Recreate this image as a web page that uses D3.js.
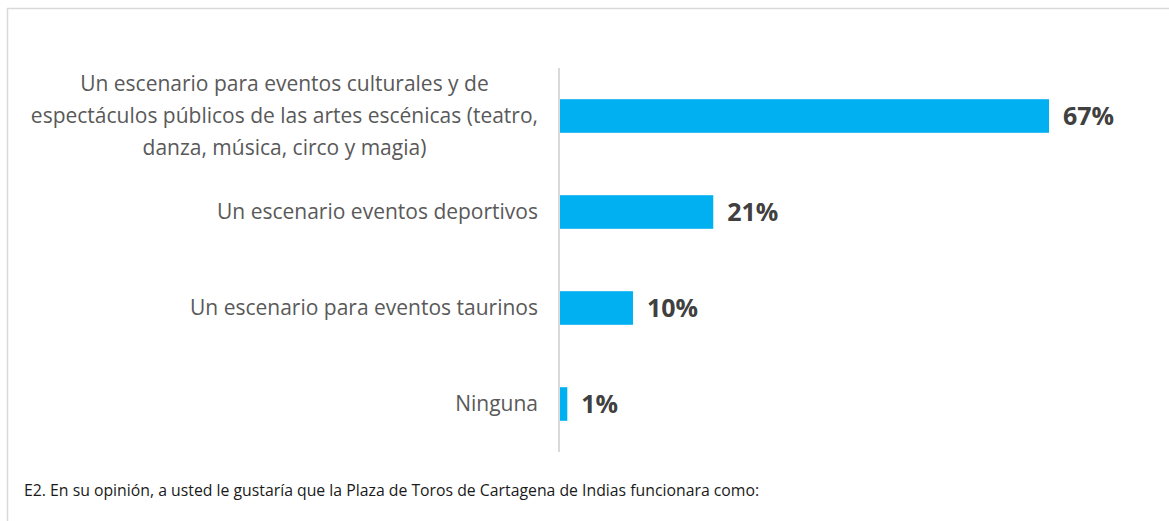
<!DOCTYPE html>
<html>
<head>
<meta charset="utf-8">
<script src="https://cdn.jsdelivr.net/npm/d3@7"></script>
<style>
  body { margin: 0; background: #fff; }
  svg { display: block; font-family: "Open Sans", Lato, sans-serif; }
</style>
</head>
<body>
<div id="chart"></div>
<script>
// categorias y porcentajes
var categorias = [
  ["Un escenario para eventos culturales y de", "espectáculos públicos de las artes escénicas (teatro,", "danza, música, circo y magia)"],
  ["Un escenario eventos deportivos"],
  ["Un escenario para eventos taurinos"],
  ["Ninguna"]
];
var valores = [67, 21, 10, 1];
var nota = "E2. En su opinión, a usted le gustaría que la Plaza de Toros de Cartagena de Indias funcionara como:";

var W = 1169, H = 521;
var margin = { top: 68, left: 559, bottom: 69 };

var svg = d3.select("#chart").append("svg")
    .attr("width", W)
    .attr("height", H);

// marco gris
svg.append("rect")
    .attr("x", 7.5).attr("y", 8.5)
    .attr("width", W + 20).attr("height", H + 20)
    .attr("fill", "none")
    .attr("stroke", "#d9d9d9")
    .attr("stroke-width", 1.5);

var idx = valores.map(function(d, i) { return i; });

var y = d3.scaleBand()
    .domain(idx)
    .range([margin.top, H - margin.bottom])
    .paddingInner(0.65)
    .paddingOuter(0.325);

var x = d3.scaleLinear()
    .domain([0, 67])
    .range([margin.left + 1, 1049]);

// barras
svg.selectAll("rect.bar")
    .data(valores)
  .enter().append("rect")
    .attr("class", "bar")
    .attr("x", x(0))
    .attr("y", function(d, i) { return y(i); })
    .attr("height", y.bandwidth())
    .attr("width", function(d) { return x(d) - x(0); })
    .attr("fill", "#00b0f0");

// eje vertical
svg.append("line")
    .attr("x1", margin.left).attr("x2", margin.left)
    .attr("y1", margin.top).attr("y2", H - margin.bottom)
    .attr("stroke", "#d9d9d9")
    .attr("stroke-width", 2);

// etiquetas de valor
svg.selectAll("text.valor")
    .data(valores)
  .enter().append("text")
    .attr("class", "valor")
    .attr("x", function(d) { return x(d) + 14; })
    .attr("y", function(d, i) { return y(i) + y.bandwidth() / 2; })
    .attr("dy", "0.36em")
    .attr("font-size", 25)
    .attr("font-weight", "bold")
    .attr("fill", "#404040")
    .text(function(d) { return d + "%"; });

// etiquetas de categoria
var lineH = 32;
var fs = 21;
categorias.forEach(function(lineas, i) {
    var cy = y(i) + y.bandwidth() / 2;
    var g = svg.append("g");
    var t = g.selectAll("text")
        .data(lineas)
      .enter().append("text")
        .attr("y", function(d, j) { return cy + (j - (lineas.length - 1) / 2) * lineH; })
        .attr("dy", "0.35em")
        .attr("font-size", fs)
        .attr("fill", "#595959")
        .text(function(d) { return d; });
    // ancho del renglon mas largo, centrado como en Excel
    var maxW = d3.max(t.nodes(), function(n) { return n.getComputedTextLength(); });
    var cx = 538 - maxW / 2;
    t.attr("x", cx).attr("text-anchor", "middle");
});

// nota inferior
svg.append("text")
    .attr("x", 24).attr("y", 496)
    .attr("font-size", 15.8)
    .attr("fill", "#1a1a1a")
    .text(nota);
</script>
</body>
</html>
